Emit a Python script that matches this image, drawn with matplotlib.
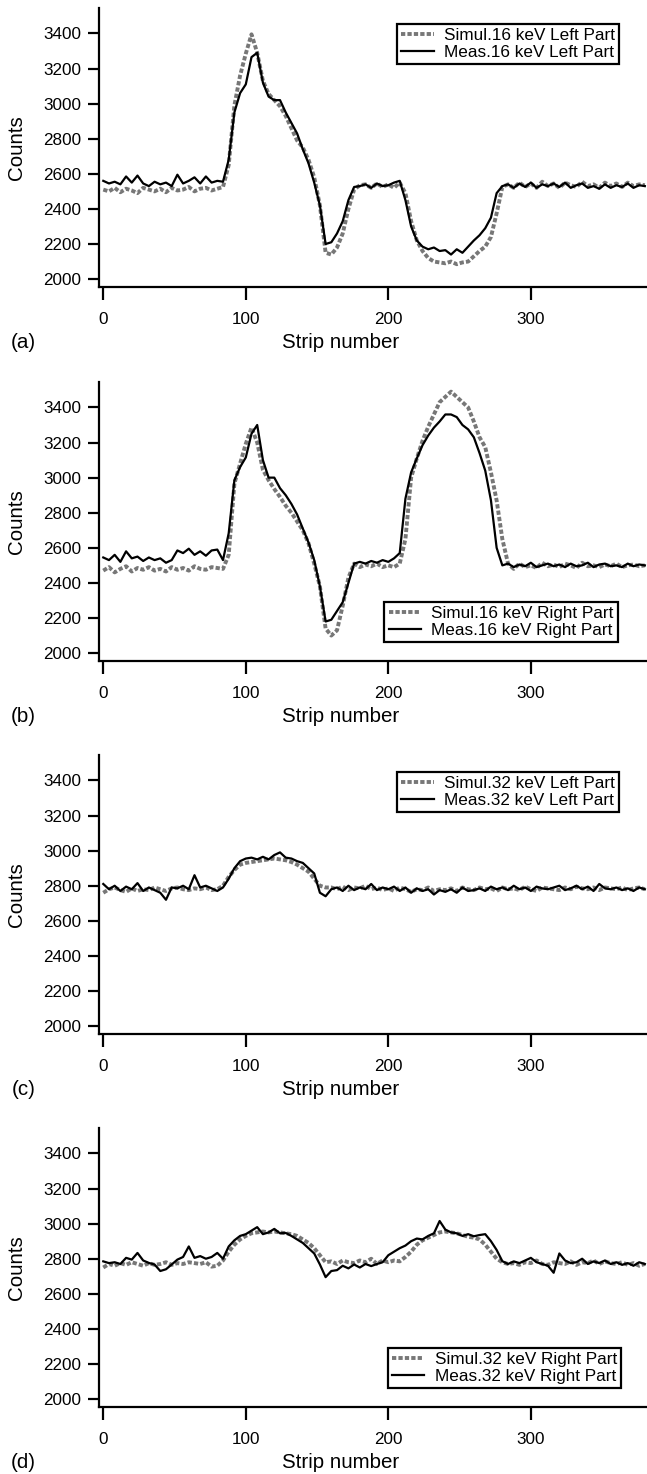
import numpy as np
import matplotlib.pyplot as plt

plt.rcParams['font.family'] = ['Liberation Sans', 'DejaVu Sans']

# strip numbers (every 4th strip)
strip = np.arange(0, 384, 4)

# (a) 16 keV, left part
sim_16_left = [
    2510, 2500, 2520, 2495, 2515, 2505, 2490, 2520, 2510, 2500,
    2515, 2495, 2520, 2505, 2510, 2525, 2500, 2515, 2520, 2505,
    2515, 2525, 2650, 2990, 3160, 3285, 3395, 3290, 3130, 3055,
    3020, 2985, 2930, 2860, 2790, 2750, 2680, 2580, 2420, 2150,
    2140, 2180, 2260, 2400, 2510, 2535, 2540, 2520, 2545, 2525,
    2540, 2520, 2550, 2490, 2330, 2220, 2160, 2120, 2100, 2095,
    2090, 2100, 2085, 2095, 2100, 2130, 2160, 2185, 2240, 2375,
    2525, 2540, 2520, 2550, 2525, 2545, 2520, 2555, 2530, 2545,
    2520, 2550, 2535, 2525, 2555, 2530, 2540, 2520, 2550, 2530,
    2545, 2525, 2550, 2530, 2540, 2535,
]
meas_16_left = [
    2560, 2545, 2555, 2540, 2585, 2550, 2590, 2545, 2530, 2555,
    2540, 2550, 2530, 2595, 2545, 2560, 2580, 2545, 2585, 2550,
    2560, 2555, 2680, 2950, 3060, 3110, 3265, 3290, 3120, 3040,
    3020, 3020, 2950, 2890, 2830, 2740, 2660, 2550, 2420, 2200,
    2210, 2260, 2330, 2450, 2525, 2530, 2540, 2520, 2545, 2530,
    2535, 2550, 2560, 2450, 2300, 2220, 2185, 2170, 2180, 2160,
    2165, 2140, 2170, 2150, 2185, 2220, 2250, 2290, 2350, 2490,
    2530, 2540, 2520, 2545, 2525, 2550, 2520, 2540, 2530, 2545,
    2525, 2550, 2520, 2535, 2545, 2520, 2530, 2515, 2540, 2520,
    2535, 2525, 2545, 2520, 2535, 2530,
]

# (b) 16 keV, right part
sim_16_right = [
    2470, 2490, 2460, 2480, 2495, 2465, 2485, 2475, 2490, 2470,
    2480, 2465, 2490, 2475, 2485, 2470, 2495, 2480, 2475, 2490,
    2485, 2480, 2560, 2966, 3080, 3193, 3285, 3200, 3045, 2985,
    2935, 2890, 2840, 2800, 2750, 2700, 2626, 2510, 2380, 2140,
    2100, 2130, 2270, 2430, 2510, 2490, 2505, 2495, 2510, 2490,
    2500, 2490, 2510, 2650, 3000, 3110, 3210, 3290, 3360, 3430,
    3460, 3490, 3460, 3430, 3400, 3320, 3230, 3174, 3030, 2870,
    2650, 2510, 2480, 2510, 2490, 2500, 2485, 2515, 2495, 2505,
    2490, 2510, 2500, 2485, 2515, 2495, 2500, 2490, 2505, 2495,
    2510, 2490, 2500, 2505, 2495, 2500,
]
meas_16_right = [
    2545, 2530, 2560, 2520, 2580, 2540, 2550, 2525, 2545, 2530,
    2540, 2515, 2530, 2585, 2570, 2595, 2560, 2580, 2555, 2585,
    2590, 2530, 2683, 2985, 3060, 3115, 3250, 3300, 3100, 3000,
    3000, 2940, 2900, 2850, 2790, 2710, 2630, 2530, 2380, 2180,
    2190, 2240, 2290, 2400, 2510, 2520, 2510, 2525, 2515, 2530,
    2520, 2540, 2570, 2880, 3030, 3110, 3185, 3240, 3285, 3320,
    3360, 3360, 3345, 3300, 3275, 3230, 3140, 3040, 2871, 2600,
    2500, 2510, 2490, 2505, 2495, 2515, 2490, 2500, 2510, 2495,
    2505, 2490, 2510, 2495, 2500, 2515, 2490, 2505, 2510, 2495,
    2500, 2490, 2510, 2495, 2505, 2500,
]

# (c) 32 keV, left part
sim_32_left = [
    2760, 2780, 2790, 2775, 2765, 2785, 2770, 2780, 2775, 2790,
    2780, 2770, 2785, 2790, 2780, 2775, 2785, 2780, 2790, 2775,
    2780, 2800, 2850, 2890, 2920, 2930, 2935, 2940, 2945, 2950,
    2955, 2950, 2945, 2935, 2920, 2900, 2880, 2840, 2800, 2790,
    2790, 2780, 2795, 2775, 2790, 2785, 2800, 2780, 2790, 2775,
    2785, 2770, 2790, 2780, 2765, 2780, 2775, 2790, 2770, 2780,
    2775, 2785, 2770, 2790, 2780, 2775, 2790, 2780, 2785, 2770,
    2790, 2780, 2785, 2775, 2795, 2780, 2770, 2790, 2785, 2780,
    2775, 2790, 2780, 2795, 2785, 2780, 2790, 2775, 2790, 2785,
    2780, 2790, 2775, 2785, 2790, 2780,
]
meas_32_left = [
    2810, 2780, 2800, 2770, 2795, 2780, 2815, 2770, 2790, 2775,
    2760, 2720, 2790, 2785, 2800, 2780, 2860, 2790, 2800, 2785,
    2770, 2790, 2840, 2900, 2940, 2955, 2960, 2950, 2965, 2950,
    2975, 2990, 2960, 2955, 2940, 2930, 2900, 2870, 2760, 2740,
    2780, 2790, 2770, 2800, 2775, 2790, 2780, 2810, 2775, 2790,
    2780, 2795, 2770, 2790, 2760, 2785, 2770, 2780, 2750, 2775,
    2765, 2780, 2760, 2790, 2770, 2775, 2785, 2770, 2795, 2780,
    2790, 2775, 2800, 2780, 2790, 2770, 2795, 2785, 2780, 2790,
    2800, 2775, 2785, 2800, 2780, 2795, 2770, 2810, 2785, 2780,
    2790, 2775, 2785, 2770, 2790, 2780,
]

# (d) 32 keV, right part
sim_32_right = [
    2750, 2770, 2760, 2775, 2765, 2780, 2770, 2760, 2775, 2765,
    2770, 2780, 2765, 2775, 2770, 2780, 2775, 2770, 2780, 2755,
    2760, 2790, 2840, 2880, 2910, 2930, 2945, 2950, 2955, 2950,
    2955, 2950, 2945, 2940, 2930, 2910, 2890, 2860, 2820, 2780,
    2785, 2770, 2790, 2780, 2775, 2790, 2780, 2800, 2770, 2790,
    2780, 2790, 2785, 2810, 2840, 2880, 2905, 2920, 2935, 2950,
    2955, 2950, 2945, 2935, 2925, 2920, 2910, 2880, 2840, 2800,
    2780, 2770, 2775, 2765, 2780, 2775, 2790, 2770, 2765, 2780,
    2775, 2770, 2785, 2765, 2780, 2775, 2790, 2770, 2785, 2775,
    2770, 2780, 2765, 2775, 2760, 2770,
]
meas_32_right = [
    2785, 2775, 2780, 2770, 2805, 2795, 2833, 2790, 2776, 2767,
    2730, 2740, 2767, 2795, 2810, 2870, 2805, 2815, 2800, 2810,
    2833, 2800, 2870, 2905, 2930, 2940, 2960, 2980, 2940, 2950,
    2970, 2945, 2947, 2930, 2910, 2890, 2860, 2830, 2767, 2695,
    2730, 2735, 2760, 2745, 2767, 2750, 2770, 2758, 2770, 2780,
    2820, 2840, 2860, 2875, 2900, 2915, 2910, 2930, 2945, 3015,
    2966, 2950, 2945, 2930, 2940, 2928, 2935, 2940, 2900, 2850,
    2786, 2770, 2785, 2775, 2790, 2805, 2780, 2770, 2760, 2720,
    2830, 2790, 2775, 2780, 2800, 2770, 2785, 2775, 2790, 2770,
    2780, 2765, 2775, 2760, 2780, 2770,
]

panel_tags = ['(a)', '(b)', '(c)', '(d)']
sim_labels = ['Simul.16 keV Left Part', 'Simul.16 keV Right Part',
              'Simul.32 keV Left Part', 'Simul.32 keV Right Part']
meas_labels = ['Meas.16 keV Left Part', 'Meas.16 keV Right Part',
               'Meas.32 keV Left Part', 'Meas.32 keV Right Part']
sims = [sim_16_left, sim_16_right, sim_32_left, sim_32_right]
meas = [meas_16_left, meas_16_right, meas_32_left, meas_32_right]

W, H = 647, 1474
fig = plt.figure(figsize=(W / 100, H / 100), dpi=100)

bottom_px = [287, 661, 1034, 1407]
leg_loc = ['upper right', 'lower right', 'upper right', 'lower right']
leg_anchor = [(0.949, 0.943), (0.947, 0.068), (0.949, 0.939), (0.953, 0.068)]

for i in range(4):
    ax = fig.add_axes([99 / W, 1 - bottom_px[i] / H, 548 / W, 279 / H])
    ax.plot(strip, sims[i], color='#777777', lw=2.8, ls=(0, (1.1, 0.55)),
            label=sim_labels[i])
    ax.plot(strip, meas[i], color='black', lw=1.6, label=meas_labels[i])

    ax.set_xlim(-3, 381.5)
    ax.set_ylim(1955, 3545)
    ax.set_xticks([0, 100, 200, 300])
    ax.set_yticks(np.arange(2000, 3401, 200))
    ax.spines['top'].set_visible(False)
    ax.spines['right'].set_visible(False)
    ax.spines['left'].set_linewidth(1.6)
    ax.spines['bottom'].set_linewidth(1.6)
    ax.tick_params(axis='y', direction='out', length=8, width=1.6, pad=5,
                   labelsize=12.3)
    ax.tick_params(axis='x', direction='out', length=9, width=1.6, pad=9,
                   labelsize=12.3)

    ax.set_ylabel('Counts', fontsize=14.8)
    ax.yaxis.set_label_coords(-0.15, 0.5)
    ax.yaxis.label.set_va('center')
    ax.set_xlabel('Strip number', fontsize=14.8)
    ax.xaxis.set_label_coords(0.4416, -0.2)
    ax.xaxis.label.set_va('center')

    ax.text(-0.138, -0.2, panel_tags[i], transform=ax.transAxes,
            fontsize=14.8, ha='center', va='center')

    leg = ax.legend(loc=leg_loc[i], bbox_to_anchor=leg_anchor[i],
                    borderaxespad=0, fontsize=12.3, handlelength=1.9,
                    handletextpad=0.6, labelspacing=0.1, borderpad=0.25,
                    fancybox=False, framealpha=1, edgecolor='black')
    leg.get_frame().set_linewidth(1.6)

fig.savefig('out.png', dpi=100)
